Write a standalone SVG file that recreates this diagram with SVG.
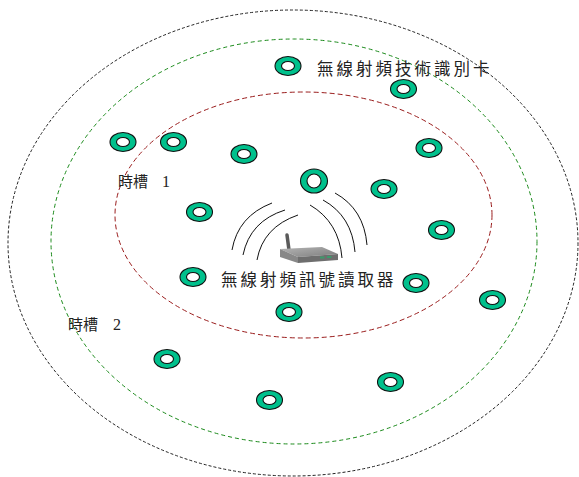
<svg xmlns="http://www.w3.org/2000/svg" xmlns:xlink="http://www.w3.org/1999/xlink" width="579" height="477" viewBox="0 0 579 477">
  <style>
    .zone { fill: none; stroke-width: 1; }
    .z-outer { stroke: #222; stroke-dasharray: 3 2; }
    .z-mid { stroke: #1a8a1a; stroke-dasharray: 4 3; }
    .z-inner { stroke: #9a1c1c; stroke-dasharray: 5 3; }
    .ring { fill: #00c08c; stroke: #111; stroke-width: 1.1; }
    .hole { fill: #fff; stroke: #111; stroke-width: 1.1; }
    .wave { fill: none; stroke: #111; stroke-width: 1; }
    .label { font-family: "Noto Sans CJK TC", "Noto Sans CJK SC", sans-serif; fill: #222; }
    .big { font-size: 16.5px; letter-spacing: 3px; }
    .slot { font-size: 15px; }
    .num { font-family: "Liberation Serif", serif; font-size: 16px; fill: #222; }
  </style>
  <defs>
    <g id="tag">
      <ellipse class="ring" cx="0" cy="0" rx="13" ry="9.5"/>
      <ellipse class="hole" cx="0" cy="0" rx="6.5" ry="4.5"/>
    </g>
    <g id="tag-big">
      <ellipse class="ring" cx="0" cy="0" rx="13.5" ry="12"/>
      <ellipse class="hole" cx="0" cy="0" rx="7" ry="7"/>
    </g>
    <linearGradient id="top" x1="0" y1="0" x2="1" y2="1">
      <stop offset="0" stop-color="#b5b5b5"/>
      <stop offset="1" stop-color="#7d7d7d"/>
    </linearGradient>
  </defs>

  <!-- read zones -->
  <g id="zones">
    <ellipse class="zone z-outer" cx="293" cy="243" rx="285" ry="233"/>
    <ellipse class="zone z-mid" cx="294" cy="241.5" rx="243" ry="202.5"/>
    <ellipse class="zone z-inner" cx="303.5" cy="215" rx="188.5" ry="123"/>
  </g>

  <!-- reader with radio waves -->
  <g id="reader">
    <g id="waves">
      <path class="wave" d="M232 250 Q238 216 272 203"/>
      <path class="wave" d="M243 255 Q250 221 285 210"/>
      <path class="wave" d="M257 260 Q263 227 298 215"/>
      <path class="wave" d="M310 205 Q339 222 342 258"/>
      <path class="wave" d="M323 200 Q352 216 355 252"/>
      <path class="wave" d="M335 193 Q364 209 367 245"/>
    </g>
    <line x1="289" y1="250" x2="287" y2="235" stroke="#5a5a5a" stroke-width="3.5" stroke-linecap="round"/>
    <polygon points="280,249 322,247 338,254 298,257" fill="url(#top)"/>
    <polygon points="280,249 298,257 298,263 280,257" fill="#888"/>
    <polygon points="298,257 338,254 338,260 298,263" fill="#6e6e6e"/>
    <rect x="320" y="256.5" width="4.5" height="2" fill="#3c9a6a"/>
    <rect x="327" y="256" width="4.5" height="2" fill="#3c9a6a"/>
    <text class="label big" x="221" y="286">無線射頻訊號讀取器</text>
  </g>

  <!-- tags -->
  <g id="tag-1"><use xlink:href="#tag" x="288" y="66"/></g>
  <g id="tag-2"><use xlink:href="#tag" x="403.5" y="89"/></g>
  <g id="tag-3"><use xlink:href="#tag" x="123" y="142"/></g>
  <g id="tag-4"><use xlink:href="#tag" x="173.5" y="142"/></g>
  <g id="tag-5"><use xlink:href="#tag" x="244" y="154"/></g>
  <g id="tag-6"><use xlink:href="#tag" x="429" y="148"/></g>
  <g id="tag-7"><use xlink:href="#tag-big" x="314" y="181"/></g>
  <g id="tag-8"><use xlink:href="#tag" x="384" y="189"/></g>
  <g id="tag-9"><use xlink:href="#tag" x="199.5" y="212"/></g>
  <g id="tag-10"><use xlink:href="#tag" x="441.5" y="230"/></g>
  <g id="tag-11"><use xlink:href="#tag" x="193" y="277"/></g>
  <g id="tag-12"><use xlink:href="#tag" x="416" y="283"/></g>
  <g id="tag-13"><use xlink:href="#tag" x="492.5" y="300"/></g>
  <g id="tag-14"><use xlink:href="#tag" x="289" y="312"/></g>
  <g id="tag-15"><use xlink:href="#tag" x="167" y="359"/></g>
  <g id="tag-16"><use xlink:href="#tag" x="390.5" y="382"/></g>
  <g id="tag-17"><use xlink:href="#tag" x="269.5" y="400"/></g>

  <!-- labels -->
  <text class="label big" x="317" y="75">無線射頻技術識別卡</text>
  <text class="label slot" x="118" y="187">時槽<tspan class="num" x="162">1</tspan></text>
  <text class="label slot" x="68" y="330">時槽<tspan class="num" x="113">2</tspan></text>
</svg>
